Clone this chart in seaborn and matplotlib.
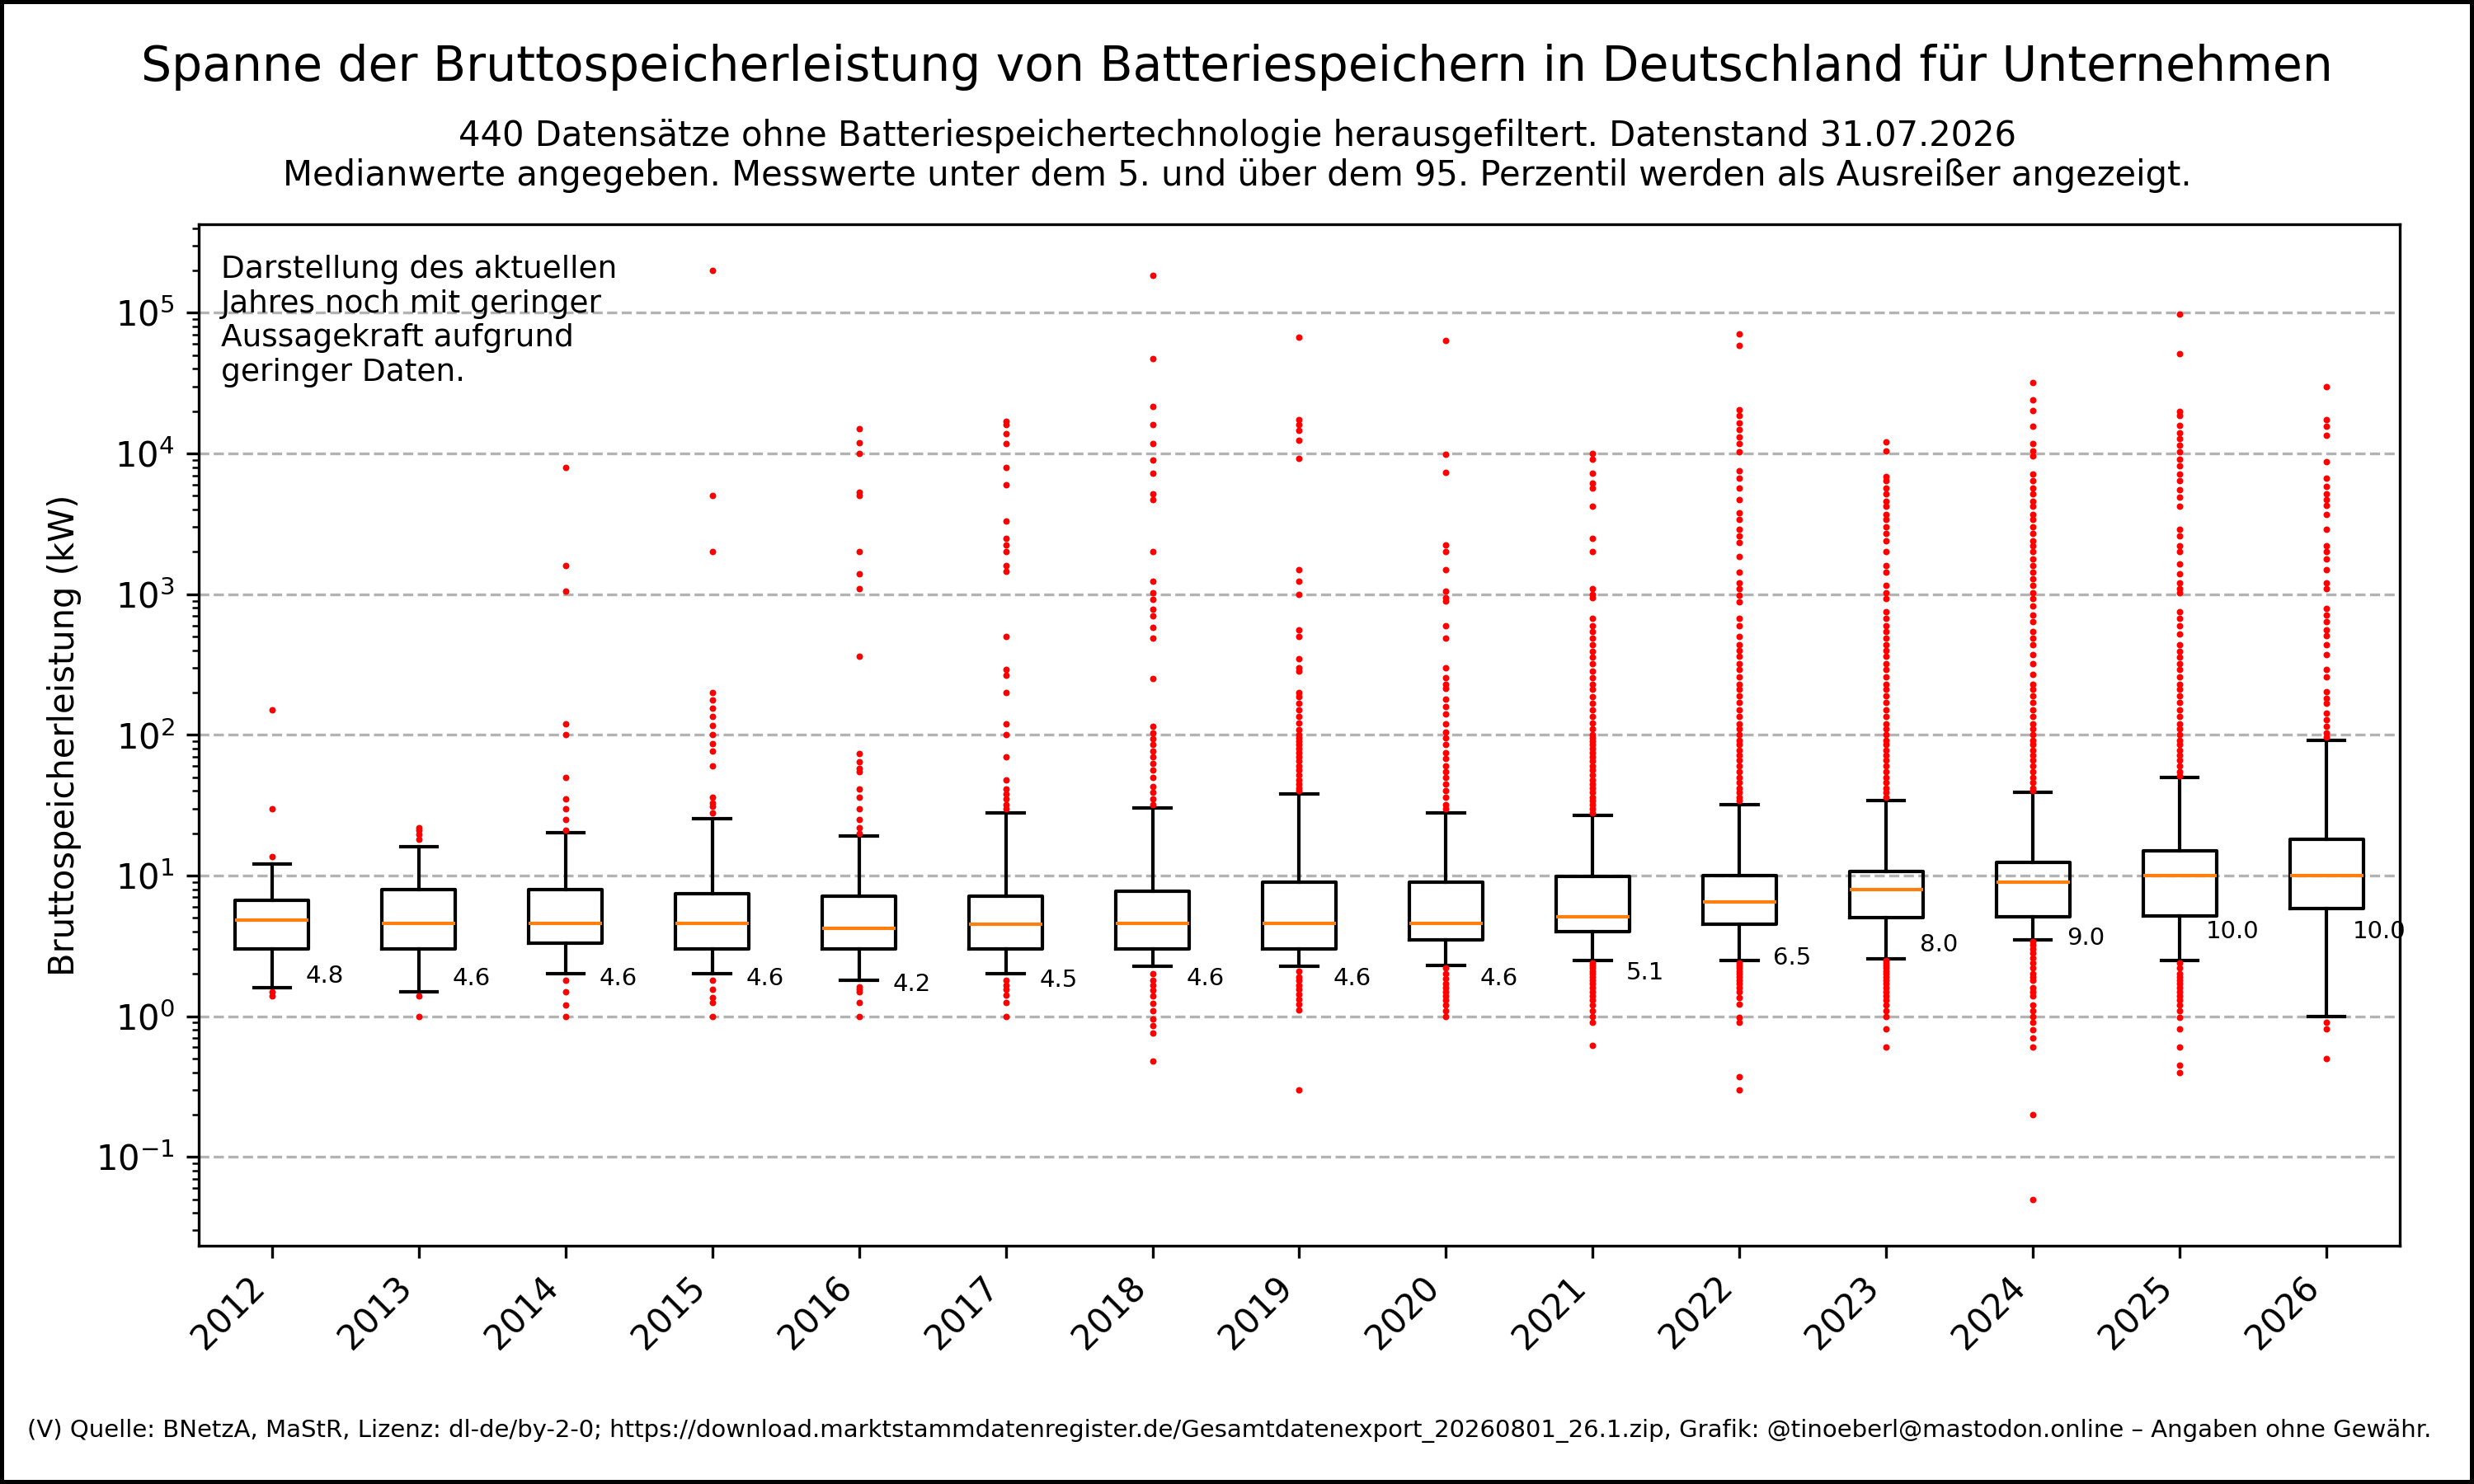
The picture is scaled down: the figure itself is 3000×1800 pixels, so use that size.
import pandas as pd
import seaborn as sns
from matplotlib import pyplot as plt

# Box statistics per year (kW)
years = [2012, 2013, 2014, 2015, 2016, 2017, 2018, 2019, 2020, 2021, 2022, 2023, 2024, 2025, 2026]
medians = [4.8, 4.6, 4.6, 4.6, 4.2, 4.5, 4.6, 4.6, 4.6, 5.1, 6.5, 8.0, 9.0, 10.0, 10.0]
q1 = [3.0, 3.0, 3.3, 3.0, 3.0, 3.0, 3.0, 3.0, 3.5, 4.0, 4.5, 5.0, 5.1, 5.15, 5.85]
q3 = [6.7, 8.0, 8.0, 7.4, 7.1, 7.1, 7.7, 9.0, 9.0, 9.8, 10.0, 10.7, 12.4, 14.9, 18.0]
p5 = [1.6, 1.5, 2.0, 2.0, 1.8, 2.0, 2.26, 2.26, 2.3, 2.5, 2.5, 2.57, 3.5, 2.5, 1.0]
p95 = [12.1, 16.0, 20.3, 25.4, 19.2, 27.7, 30.1, 38.0, 27.7, 26.8, 32.0, 34.3, 39.0, 50.0, 92.0]

# Outliers (below 5th / above 95th percentile) per year
fliers = [
    [150, 30, 13.6, 1.5, 1.4],
    [22, 21, 19.5, 18, 1.4, 1.0],
    [8000, 1600, 1050, 120, 100, 50, 35, 30, 25, 21, 1.8, 1.5, 1.2, 1.0],
    [200000, 5000, 2000, 200, 177, 155, 135, 117, 101, 87, 77, 60, 36, 33, 31, 28,
     1.8, 1.55, 1.35, 1.25, 1.0],
    [15000, 12000, 10000, 5300, 5000, 2000, 1400, 1100, 360, 74, 64, 58, 55, 41, 36, 30, 25, 22, 20,
     1.62, 1.55, 1.5, 1.25, 1.0],
    [17000, 16000, 13800, 11700, 8000, 6000, 3300, 2500, 2250, 2000, 1600, 1450, 500, 290, 265, 200,
     120, 100, 70, 48, 41, 38, 35, 32, 30,
     1.8, 1.67, 1.55, 1.42, 1.25, 1.0],
    [186000, 47000, 21600, 16000, 11700, 9000, 7200, 5150, 4700, 2000, 1240, 1020, 920, 780, 700, 580,
     490, 250, 115, 103, 94, 85, 77, 70, 63, 56, 50, 43, 39, 35, 32,
     2.0, 1.8, 1.67, 1.53, 1.39, 1.24, 1.1, 0.96, 0.86, 0.76, 0.48],
    [67000, 17300, 16000, 14700, 12400, 9200, 1500, 1240, 1000, 555, 500, 350, 300, 285, 200, 186,
     167, 150, 135, 121, 109, 100, 95, 90, 85, 80, 75, 70, 65, 60, 56, 52, 48, 45, 42, 40,
     2.1, 1.9, 1.8, 1.67, 1.55, 1.44, 1.32, 1.21, 1.11, 0.3],
    [64000, 9900, 7300, 2230, 2000, 1490, 1055, 950, 900, 600, 490, 300, 256, 228, 214, 180, 160,
     140, 120, 105, 95, 85, 75, 68, 60, 55, 50, 45, 40, 36, 32, 30,
     2.2, 2.0, 1.85, 1.7, 1.6, 1.5, 1.4, 1.3, 1.2, 1.1, 1.0],
    [10000, 9100, 7200, 6200, 5700, 4200, 2500, 2000, 1100, 1000, 950, 670, 600, 545, 490, 440, 395,
     355, 320, 285, 255, 230, 210, 186, 167, 150, 135, 121, 110, 100, 95, 90, 85, 80, 75, 70, 65, 60,
     56, 52, 48, 45, 42, 39, 36, 34, 32, 30, 28,
     2.4, 2.3, 2.2, 2.1, 2.0, 1.9, 1.8, 1.7, 1.6, 1.5, 1.4, 1.3, 1.2, 1.1, 1.0, 0.9, 0.62],
    [71000, 59000, 20500, 18600, 16500, 14800, 13200, 11800, 10300, 7500, 6700, 5700, 4700, 3800,
     3400, 2900, 2600, 2340, 1860, 1430, 1210, 1090, 980, 880, 670, 600, 500, 440, 400, 360, 320, 290,
     260, 230, 210, 190, 170, 150, 135, 120, 110, 100, 92, 85, 78, 72, 66, 60, 55, 50, 46, 42, 39, 36,
     34,
     2.4, 2.3, 2.2, 2.1, 2.0, 1.9, 1.8, 1.7, 1.6, 1.5, 1.35, 1.21, 0.98, 0.9, 0.37, 0.3],
    [12100, 10400, 6900, 6400, 5700, 5150, 4600, 4200, 3700, 3400, 3000, 2700, 2400, 2000, 1600,
     1430, 1160, 1030, 930, 750, 670, 600, 545, 490, 440, 400, 360, 320, 290, 260, 230, 210, 190, 170,
     150, 135, 120, 110, 100, 92, 85, 78, 72, 66, 60, 55, 50, 46, 42, 39, 36,
     2.5, 2.4, 2.3, 2.2, 2.1, 2.0, 1.9, 1.8, 1.7, 1.6, 1.5, 1.4, 1.3, 1.2, 1.1, 1.0, 0.81, 0.6],
    [31800, 24000, 20300, 15700, 11800, 10400, 9600, 7100, 6400, 5700, 5150, 4600, 4200, 3700, 3400,
     3000, 2700, 2400, 2200, 2000, 1780, 1590, 1430, 1280, 1160, 1030, 930, 830, 710, 640, 545, 490,
     440, 370, 320, 270, 230, 210, 190, 170, 150, 135, 120, 110, 100, 92, 85, 78, 72, 66, 60, 55, 50,
     46, 42, 40,
     3.4, 3.2, 3.0, 2.8, 2.6, 2.4, 2.2, 2.0, 1.9, 1.8, 1.6, 1.5, 1.4, 1.2, 1.1, 1.0, 0.9, 0.8, 0.7,
     0.6, 0.2, 0.05],
    [98000, 51000, 20000, 18600, 15800, 14000, 12800, 11400, 10300, 9100, 8200, 7100, 6400, 5500,
     4900, 4200, 2900, 2600, 2200, 2000, 1650, 1400, 1200, 1100, 1030, 750, 670, 600, 520, 440, 395,
     355, 320, 290, 260, 230, 210, 190, 170, 150, 135, 120, 110, 100, 92, 85, 78, 72, 66, 60, 55, 51,
     2.4, 2.2, 2.0, 1.9, 1.8, 1.7, 1.6, 1.5, 1.4, 1.3, 1.2, 1.1, 0.98, 0.81, 0.6, 0.45, 0.4],
    [30000, 17300, 15700, 13500, 8800, 6700, 5850, 5150, 4700, 4300, 3700, 2900, 2200, 2000, 1780,
     1500, 1210, 1090, 790, 710, 640, 560, 505, 440, 370, 290, 257, 203, 183, 167, 142, 128, 115, 103,
     96,
     0.9, 0.81, 0.5],
]

TITLE = "Spanne der Bruttospeicherleistung von Batteriespeichern in Deutschland für Unternehmen"
SUBTITLE = ("440 Datensätze ohne Batteriespeichertechnologie herausgefiltert. Datenstand 31.07.2026\n"
            "Medianwerte angegeben. Messwerte unter dem 5. und über dem 95. Perzentil werden als Ausreißer angezeigt.")
NOTE = "Darstellung des aktuellen\nJahres noch mit geringer\nAussagekraft aufgrund\ngeringer Daten."
FOOTER = ("(V) Quelle: BNetzA, MaStR, Lizenz: dl-de/by-2-0; "
          "https://download.marktstammdatenregister.de/Gesamtdatenexport_20260801_26.1.zip, "
          "Grafik: @tinoeberl@mastodon.online – Angaben ohne Gewähr.")


def main():
    positions = list(range(1, len(years) + 1))

    fig, ax = plt.subplots(figsize=(10, 6), dpi=300)
    fig.subplots_adjust(left=0.0803, right=0.970, top=0.849, bottom=0.1606)
    fig.patch.set_edgecolor("black")
    fig.patch.set_linewidth(2)

    # boxes from precomputed stats (whiskers = 5th / 95th percentile)
    stats = []
    for y, m, a, b, lo, hi in zip(years, medians, q1, q3, p5, p95):
        stats.append(dict(med=m, q1=a, q3=b, whislo=lo, whishi=hi, fliers=[], label=str(y)))
    ax.bxp(stats, positions=positions, widths=0.5, showfliers=False)

    # outliers as red dots
    rows = [(p, v) for p, vals in zip(positions, fliers) for v in vals]
    df = pd.DataFrame(rows, columns=["pos", "kW"])
    sns.scatterplot(data=df, x="pos", y="kW", color="red", s=3.6, linewidth=0, ax=ax, zorder=3)

    ax.set_yscale("log")
    ax.set_xlim(0.5, len(years) + 0.5)
    ax.set_xticks(positions, labels=[str(y) for y in years], rotation=45, ha="right")
    ax.yaxis.grid(True, linestyle="--", color="0.7", linewidth=0.8)
    ax.set_axisbelow(True)
    ax.set_xlabel("")
    ax.set_ylabel("Bruttospeicherleistung (kW)", fontsize=10)

    # median labels
    for p, m in zip(positions, medians):
        ax.text(p + 0.36, m * 0.4, "{:.1f}".format(m), fontsize=7, ha="center", va="center")

    ax.text(0.01, 0.97, NOTE, transform=ax.transAxes, fontsize=9, va="top", ha="left")

    fig.text(0.5, 0.955, TITLE, fontsize=14, ha="center", va="center")
    fig.text(0.5, 0.895, SUBTITLE, fontsize=10, ha="center", va="center")
    fig.text(0.011, 0.036, FOOTER, fontsize=7, ha="left", va="center")

    fig.savefig("out.png", dpi=300, edgecolor=fig.get_edgecolor())


main()
